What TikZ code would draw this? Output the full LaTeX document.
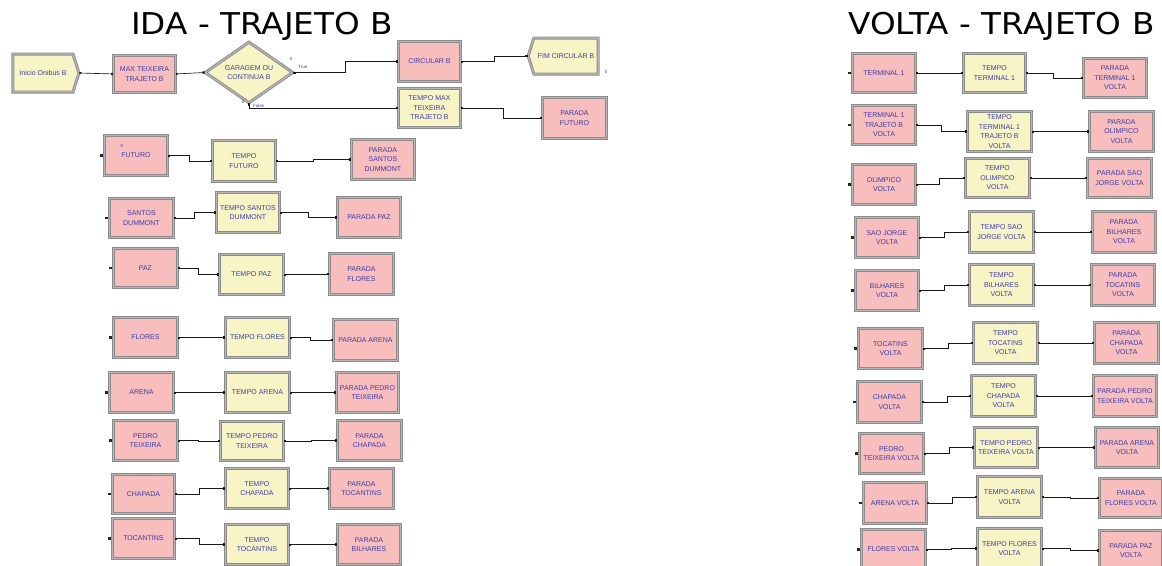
\documentclass[tikz,border=0pt]{standalone}
\usepackage{fontspec}
\setmainfont{Liberation Sans}
\newfontfamily\titlefont{DejaVu Sans}
\usetikzlibrary{shapes.geometric,shapes.symbols,arrows.meta}

\definecolor{boxpink}{RGB}{248,189,189}
\definecolor{boxyellow}{RGB}{247,244,197}
\definecolor{frameout}{RGB}{140,140,140}
\definecolor{framein}{RGB}{182,182,182}
\definecolor{labelblue}{RGB}{62,62,168}

% module connector: exit point on the source, entry point on the target
\newcommand{\modlink}[3]{\draw[conn] (#1.east) -- ++(#3,0) |- (#2.west);}
% entry point stub on the left of a module
\newcommand{\entrydot}[1]{\fill[black!85] ([xshift=-3.6pt,yshift=-1.1pt]#1.west) rectangle ++(2.2pt,2.2pt);}

\begin{document}
\begin{tikzpicture}[x=1pt,y=-1pt,
  frame/.style={draw=frameout, line width=0.9pt, double=framein, double distance=1.2pt},
  mod/.style={rectangle, frame, minimum width=63pt, minimum height=40pt,
    inner sep=1pt, anchor=north west, align=center,
    font=\fontsize{7}{9.6}\selectfont, text=labelblue},
  pinkmod/.style={mod, fill=boxpink},
  yellowmod/.style={mod, fill=boxyellow},
  conn/.style={draw=black!90, line width=0.65pt,
    {Square[length=1.8pt,width=1.8pt]}-{Square[length=2.2pt,width=2.2pt]}},
  tiny/.style={inner sep=0pt, font=\fontsize{4.5}{5}\selectfont, text=labelblue},
  heading/.style={anchor=base west, inner sep=0pt,
    font=\titlefont\fontsize{30}{30}\selectfont}]

\clip (0,0) rectangle (1162,565);
\fill[white] (0,0) rectangle (1162,565);

% ---------------- headings ----------------
\node[heading] (hida) at (131,34) {\scalebox{1.09}[1]{IDA - TRAJETO B}};
\node[heading] (hvolta) at (848,34) {\scalebox{1.09}[1]{VOLTA - TRAJETO B}};

% ---------------- IDA: first row ----------------
\node[signal, signal to=east, signal pointer angle=145, frame, fill=boxyellow,
  minimum width=66pt, minimum height=38pt, inner sep=1pt,
  font=\fontsize{7}{9.6}\selectfont, text=labelblue] (inicio) at (43,73) {Inicio Onibus B};
\node[pinkmod, minimum width=62pt, minimum height=37pt] (max) at (113,55) {MAX TEIXEIRA\\TRAJETO B};
\node[diamond, frame, fill=boxyellow, aspect=1.45, inner sep=0pt,
  minimum width=88pt, minimum height=61pt,
  font=\fontsize{7}{9.6}\selectfont, text=labelblue, align=center] (garagem) at (249,72.5) {GARAGEM OU\\CONTINUA B};
\node[pinkmod, minimum width=62pt] (circ) at (398,41) {CIRCULAR B};
\node[signal, signal to=west, signal pointer angle=145, frame, fill=boxyellow,
  minimum width=70pt, minimum height=36pt, inner sep=1pt,
  font=\fontsize{7}{9.6}\selectfont, text=labelblue] (fim) at (566,56) {FIM CIRCULAR B};
\node[yellowmod, minimum width=62pt, minimum height=39pt] (tmax) at (398,88) {TEMPO MAX\\TEIXEIRA\\TRAJETO B};
\node[pinkmod, minimum width=64pt, minimum height=41pt] (pfut) at (542,97) {PARADA\\FUTURO};

\draw[conn] (inicio.east) -- (max.west);
\draw[conn] (max.east) -- (garagem.west);
\modlink{garagem}{circ}{52}
\draw[conn] (garagem.south) |- (tmax.west);
\modlink{circ}{fim}{33}
\modlink{tmax}{pfut}{42}

\node[tiny] (ntrue) at (291,59) {0};
\node[tiny, anchor=west] (ltrue) at (298,67) {True};
\node[tiny] (nfalse) at (243,102) {0};
\node[tiny, anchor=west] (lfalse) at (253,106) {False};
\node[tiny] (nfim) at (606,72) {0};

% ---------------- IDA: stops ----------------
\node[pinkmod] (futuro) at (104,135) {FUTURO};
\node[tiny] (nfut) at (122,146) {0};
\node[yellowmod, minimum height=41pt] (tfut) at (212,140) {TEMPO\\FUTURO};
\node[pinkmod] (psan) at (351,139) {PARADA\\SANTOS\\DUMMONT};
\modlink{futuro}{tfut}{21}
\modlink{tfut}{psan}{37}

\node[pinkmod, minimum width=64pt, minimum height=39pt] (santos) at (109,198) {SANTOS\\DUMMONT};
\node[yellowmod] (tsan) at (216,192) {TEMPO SANTOS\\DUMMONT};
\node[pinkmod] (ppaz) at (337,197) {PARADA PAZ};
\modlink{santos}{tsan}{20}
\modlink{tsan}{ppaz}{28}

\node[pinkmod, minimum width=64pt, minimum height=39pt] (paz) at (113,248) {PAZ};
\node[yellowmod, minimum width=64pt] (tpaz) at (219,254) {TEMPO PAZ};
\node[pinkmod, minimum width=64pt, minimum height=41pt] (pflo) at (329,253) {PARADA\\FLORES};
\modlink{paz}{tpaz}{20}
\modlink{tpaz}{pflo}{22}

\node[pinkmod, minimum width=64pt] (flores) at (113,317) {FLORES};
\node[yellowmod, minimum width=64pt] (tflo) at (225,317) {TEMPO FLORES};
\node[pinkmod, minimum width=64pt, minimum height=41pt] (parena) at (333,319) {PARADA ARENA};
\modlink{flores}{tflo}{23}
\modlink{tflo}{parena}{20}

\node[pinkmod, minimum width=64pt] (arena) at (109,372) {ARENA};
\node[yellowmod, minimum width=64pt] (tare) at (225,372) {TEMPO ARENA};
\node[pinkmod, minimum width=62pt] (pped) at (336,372) {PARADA PEDRO\\TEIXEIRA};
\modlink{arena}{tare}{26}
\modlink{tare}{pped}{23}

\node[pinkmod, minimum width=64pt] (pedro) at (113,420) {PEDRO\\TEIXEIRA};
\node[yellowmod, minimum height=39pt] (tped) at (220,421) {TEMPO PEDRO\\TEIXEIRA};
\node[pinkmod, minimum width=64pt] (pchap) at (337,420) {PARADA\\CHAPADA};
\modlink{pedro}{tped}{20}
\modlink{tped}{pchap}{27}

\node[pinkmod, minimum width=62pt, minimum height=39pt] (chap) at (112,474) {CHAPADA};
\node[yellowmod] (tchap) at (225,468) {TEMPO\\CHAPADA};
\node[pinkmod, minimum width=64pt] (ptoc) at (329,468) {PARADA\\TOCANTINS};
\modlink{chap}{tchap}{24}
\modlink{tchap}{ptoc}{20}

\node[pinkmod, minimum width=62pt] (toc) at (112,518) {TOCANTINS};
\node[yellowmod] (ttoc) at (225,524) {TEMPO\\TOCANTINS};
\node[pinkmod] (pbil) at (337,524) {PARADA\\BILHARES};
\modlink{toc}{ttoc}{24}
\modlink{ttoc}{pbil}{24}

\foreach \m in {futuro,santos,paz,flores,arena,pedro,chap,toc} {\entrydot{\m}}

% ---------------- VOLTA ----------------
\node[pinkmod, minimum height=39pt] (vter) at (852,53) {TERMINAL 1};
\node[yellowmod, minimum width=62pt, minimum height=39pt] (vtter) at (963,53) {TEMPO\\TERMINAL 1};
\node[pinkmod, minimum height=39pt] (vpter) at (1083,58) {PARADA\\TERMINAL 1\\VOLTA};
\modlink{vter}{vtter}{22}
\modlink{vtter}{vpter}{27}

\node[pinkmod, minimum height=39pt] (vtb) at (852,105) {TERMINAL 1\\TRAJETO B\\VOLTA};
\node[yellowmod, minimum width=64pt, inner ysep=0pt] (vttb) at (967,111) {TEMPO\\TERMINAL 1\\TRAJETO B\\VOLTA};
\node[pinkmod, minimum width=64pt] (vpol) at (1089,111) {PARADA\\OLIMPICO\\VOLTA};
\modlink{vtb}{vttb}{25}
\modlink{vttb}{vpol}{28}

\node[pinkmod] (vol) at (852,164) {OLIMPICO\\VOLTA};
\node[yellowmod, minimum width=64pt, minimum height=39pt] (vtol) at (965,158) {TEMPO\\OLIMPICO\\VOLTA};
\node[pinkmod, minimum width=64pt, minimum height=39pt] (vpsj) at (1087,158) {PARADA SAO\\JORGE VOLTA};
\modlink{vol}{vtol}{23}
\modlink{vtol}{vpsj}{28}

\node[pinkmod] (vsj) at (855,217) {SAO JORGE\\VOLTA};
\node[yellowmod, minimum width=64pt, minimum height=41pt] (vtsj) at (969,211) {TEMPO SAO\\JORGE VOLTA};
\node[pinkmod, minimum height=41pt] (vpbil) at (1092,211) {PARADA\\BILHARES\\VOLTA};
\modlink{vsj}{vtsj}{25}
\modlink{vtsj}{vpbil}{28}

\node[pinkmod] (vbil) at (855,270) {BILHARES\\VOLTA};
\node[yellowmod, minimum width=64pt, minimum height=41pt] (vtbil) at (969,264) {TEMPO\\BILHARES\\VOLTA};
\node[pinkmod, minimum height=41pt] (vptoc) at (1091,264) {PARADA\\TOCATINS\\VOLTA};
\modlink{vbil}{vtbil}{25}
\modlink{vtbil}{vptoc}{28}

\node[pinkmod, minimum width=64pt] (vtoc) at (858,328) {TOCATINS\\VOLTA};
\node[yellowmod, minimum width=64pt, minimum height=41pt] (vttoc) at (973,322) {TEMPO\\TOCATINS\\VOLTA};
\node[pinkmod, minimum width=64pt, minimum height=41pt] (vpchap) at (1094,322) {PARADA\\CHAPADA\\VOLTA};
\modlink{vtoc}{vttoc}{25}
\modlink{vttoc}{vpchap}{28}

\node[pinkmod, minimum width=64pt, minimum height=41pt] (vchap) at (857,381) {CHAPADA\\VOLTA};
\node[yellowmod, minimum width=64pt, minimum height=41pt] (vtchap) at (971,375) {TEMPO\\CHAPADA\\VOLTA};
\node[pinkmod, minimum height=41pt] (vpped) at (1093,375) {PARADA PEDRO\\TEIXEIRA VOLTA};
\modlink{vchap}{vtchap}{25}
\modlink{vtchap}{vpped}{28}

\node[pinkmod, minimum width=64pt] (vped) at (859,433) {PEDRO\\TEIXEIRA VOLTA};
\node[yellowmod] (vtped) at (974,427) {TEMPO PEDRO\\TEIXEIRA VOLTA};
\node[pinkmod] (vpare) at (1095,427) {PARADA ARENA\\VOLTA};
\modlink{vped}{vtped}{25}
\modlink{vtped}{vpare}{28}

\node[pinkmod, minimum height=41pt] (vare) at (863,482) {ARENA VOLTA};
\node[yellowmod, minimum width=64pt, minimum height=41pt] (vtare) at (977,476) {TEMPO ARENA\\VOLTA};
\node[pinkmod, minimum height=39pt] (vpflo) at (1099,478) {PARADA\\FLORES VOLTA};
\modlink{vare}{vtare}{25}
\modlink{vtare}{vpflo}{28}

\node[pinkmod, minimum width=64pt] (vflo) at (861,529) {FLORES VOLTA};
\node[yellowmod, minimum width=64pt] (vtflo) at (977,528) {TEMPO FLORES\\VOLTA};
\node[pinkmod] (vppaz) at (1099,530) {PARADA PAZ\\VOLTA};
\modlink{vflo}{vtflo}{25}
\modlink{vtflo}{vppaz}{28}

\foreach \m in {vter,vtb,vol,vsj,vbil,vtoc,vchap,vped,vare,vflo} {\entrydot{\m}}
\end{tikzpicture}
\end{document}
